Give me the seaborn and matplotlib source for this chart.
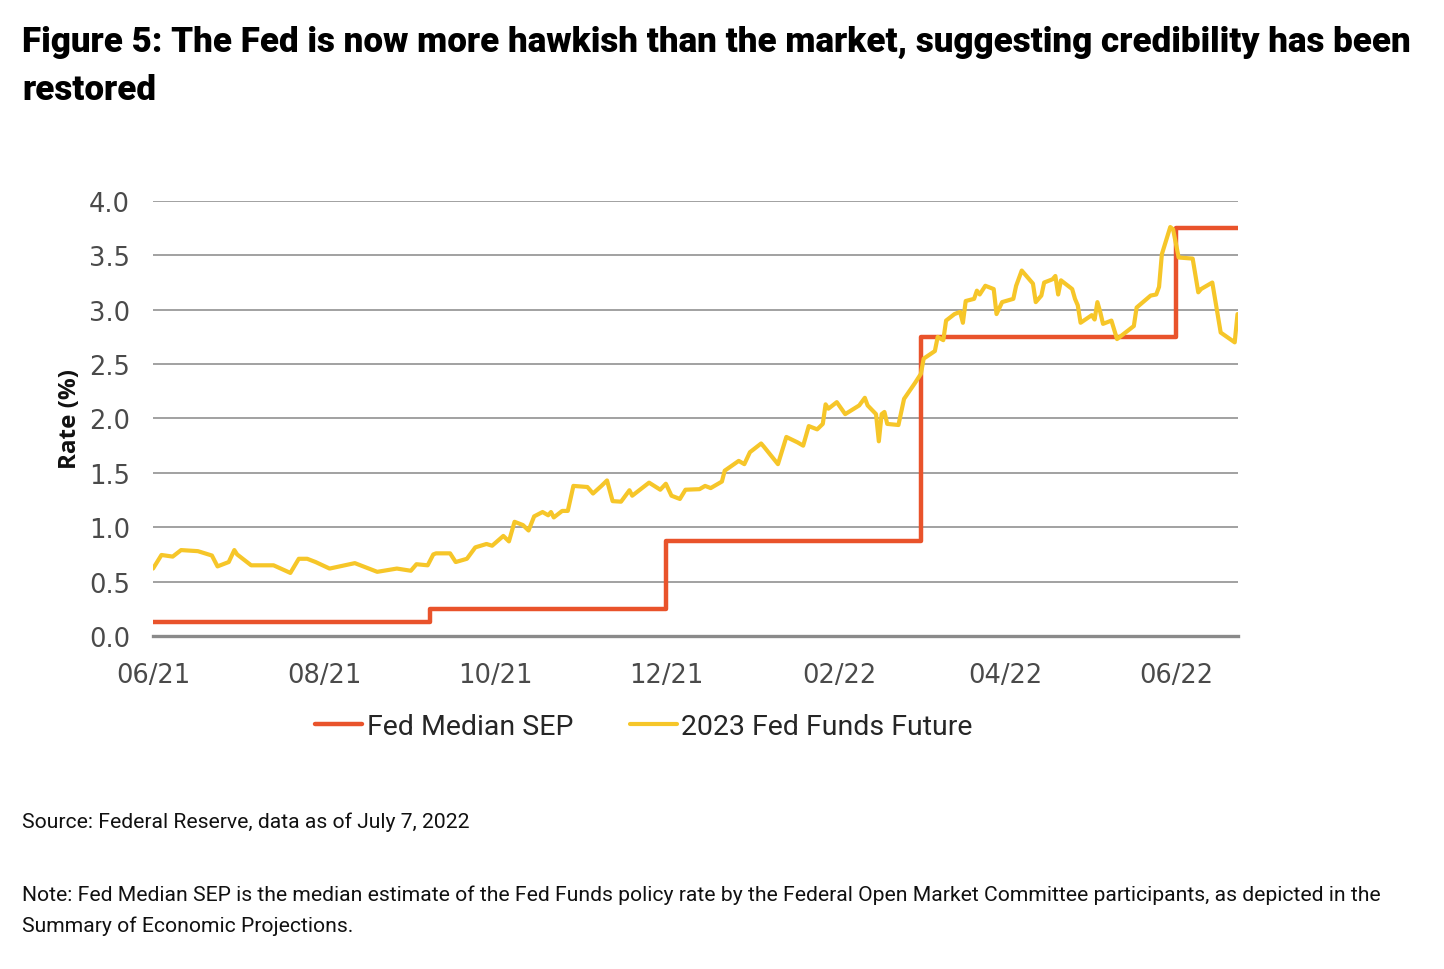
import numpy as np
import pandas as pd
import seaborn as sns
import matplotlib
matplotlib.use("Agg")
from matplotlib import pyplot as plt
import matplotlib.dates as mdates

# Fed median SEP (step changes at FOMC meetings)
sep_dates = ['2021-06-15', '2021-09-22', '2021-12-15', '2022-03-16', '2022-06-15', '2022-07-07']
sep_values = [0.125, 0.25, 0.875, 2.75, 3.75, 3.75]

# 2023 Fed Funds future
fut_dates = ['2021-06-15', '2021-06-18', '2021-06-22', '2021-06-25', '2021-07-01', '2021-07-06',
             '2021-07-08', '2021-07-12', '2021-07-14', '2021-07-15', '2021-07-20', '2021-07-28',
             '2021-08-03', '2021-08-06', '2021-08-09', '2021-08-12', '2021-08-17', '2021-08-26',
             '2021-09-03', '2021-09-10', '2021-09-15', '2021-09-17', '2021-09-21', '2021-09-23',
             '2021-09-24', '2021-09-29', '2021-10-01', '2021-10-05', '2021-10-08', '2021-10-12',
             '2021-10-14', '2021-10-18', '2021-10-20', '2021-10-22', '2021-10-25', '2021-10-27',
             '2021-10-29', '2021-11-01', '2021-11-03', '2021-11-04', '2021-11-05', '2021-11-08',
             '2021-11-10', '2021-11-12', '2021-11-17', '2021-11-19', '2021-11-22', '2021-11-24',
             '2021-11-26', '2021-11-29', '2021-12-02', '2021-12-03', '2021-12-09', '2021-12-13',
             '2021-12-15', '2021-12-17', '2021-12-20', '2021-12-22', '2021-12-27', '2021-12-29',
             '2021-12-31', '2022-01-04', '2022-01-05', '2022-01-10', '2022-01-12', '2022-01-14',
             '2022-01-18', '2022-01-19', '2022-01-24', '2022-01-27', '2022-01-31', '2022-02-02',
             '2022-02-04', '2022-02-07', '2022-02-09', '2022-02-10', '2022-02-11', '2022-02-14',
             '2022-02-17', '2022-02-22', '2022-02-24', '2022-02-25', '2022-02-28', '2022-03-01',
             '2022-03-02', '2022-03-03', '2022-03-04', '2022-03-08', '2022-03-10', '2022-03-14',
             '2022-03-16', '2022-03-17', '2022-03-21', '2022-03-22', '2022-03-24', '2022-03-25',
             '2022-03-28', '2022-03-30', '2022-03-31', '2022-04-01', '2022-04-04', '2022-04-05',
             '2022-04-06', '2022-04-08', '2022-04-11', '2022-04-12', '2022-04-14', '2022-04-18',
             '2022-04-19', '2022-04-21', '2022-04-25', '2022-04-26', '2022-04-28', '2022-04-29',
             '2022-05-02', '2022-05-03', '2022-05-04', '2022-05-05', '2022-05-09', '2022-05-10',
             '2022-05-11', '2022-05-12', '2022-05-16', '2022-05-17', '2022-05-18', '2022-05-19',
             '2022-05-20', '2022-05-23', '2022-05-25', '2022-05-31', '2022-06-01', '2022-06-06',
             '2022-06-08', '2022-06-09', '2022-06-10', '2022-06-13', '2022-06-14', '2022-06-16',
             '2022-06-21', '2022-06-23', '2022-06-24', '2022-06-28', '2022-07-01', '2022-07-06',
             '2022-07-07']
fut_values = [0.62, 0.745, 0.73, 0.79, 0.78, 0.74,
              0.64, 0.68, 0.79, 0.75, 0.65, 0.65,
              0.58, 0.71, 0.71, 0.68, 0.62, 0.67,
              0.59, 0.62, 0.60, 0.66, 0.65, 0.75,
              0.76, 0.76, 0.68, 0.71, 0.815, 0.846,
              0.83, 0.92, 0.87, 1.05, 1.02, 0.97,
              1.10, 1.14, 1.11, 1.14, 1.09, 1.15,
              1.15, 1.38, 1.37, 1.31, 1.38, 1.43,
              1.24, 1.235, 1.34, 1.29, 1.41, 1.345,
              1.40, 1.29, 1.26, 1.345, 1.35, 1.38,
              1.36, 1.42, 1.52, 1.61, 1.58, 1.69,
              1.77, 1.74, 1.58, 1.83, 1.78, 1.75,
              1.93, 1.90, 1.95, 2.13, 2.09, 2.15,
              2.04, 2.12, 2.19, 2.12, 2.04, 1.79,
              2.04, 2.06, 1.95, 1.94, 2.18, 2.33,
              2.41, 2.55, 2.62, 2.75, 2.72, 2.90,
              2.96, 2.98, 2.88, 3.08, 3.10, 3.175,
              3.14, 3.22, 3.19, 2.96, 3.07, 3.10,
              3.22, 3.36, 3.24, 3.07, 3.13, 3.25,
              3.28, 3.31, 3.14, 3.27, 3.19, 3.10,
              3.04, 2.88, 2.95, 2.91, 3.07, 2.98,
              2.87, 2.90, 2.73, 2.85, 3.02, 3.13,
              3.14, 3.21, 3.51, 3.76, 3.74, 3.48,
              3.47, 3.16, 3.19, 3.25, 2.79, 2.70,
              2.96]

tick_dates = ['2021-06-15', '2021-08-15', '2021-10-15', '2021-12-15', '2022-02-15', '2022-04-15', '2022-06-15']
y_ticks = [0.0, 0.5, 1.0, 1.5, 2.0, 2.5, 3.0, 3.5, 4.0]

sep = pd.DataFrame({'date': pd.to_datetime(sep_dates), 'rate': sep_values})
fut = pd.DataFrame({'date': pd.to_datetime(fut_dates), 'rate': fut_values})

sns.set_style("white")
plt.rcParams['font.family'] = ['DejaVu Sans']

fig = plt.figure(figsize=(14.44, 9.70), dpi=100)
ax = fig.add_axes([0.106, 0.3433, 0.751, 0.4485])

red = '#E9532B'
yellow = '#F6C629'

sns.lineplot(data=sep, x='date', y='rate', ax=ax, color=red, linewidth=3.2,
             drawstyle='steps-post', label='Fed Median SEP')
sns.lineplot(data=fut, x='date', y='rate', ax=ax, color=yellow, linewidth=3.0,
             label='2023 Fed Funds Future')

ax.set_ylim(0, 4.0)
ax.set_xlim(pd.Timestamp('2021-06-15'), pd.Timestamp('2022-07-07'))
ax.set_yticks(y_ticks)
ax.set_yticklabels([f'{v:.1f}' for v in y_ticks])
ax.set_xticks(pd.to_datetime(tick_dates))
ax.xaxis.set_major_formatter(mdates.DateFormatter('%m/%y'))

ax.grid(axis='y', color='#9a9a9a', linewidth=1.3)
ax.set_axisbelow(True)
for s in ['top', 'right', 'left']:
    ax.spines[s].set_visible(False)
ax.spines['bottom'].set_color('#8a8a8a')
ax.spines['bottom'].set_linewidth(2.4)
ax.tick_params(axis='both', length=0, labelsize=18.5, colors='#4a4a4a')
ax.tick_params(axis='y', pad=16.5)
ax.tick_params(axis='x', pad=19)
ax.set_xlabel('')
ax.set_ylabel('Rate (%)', fontsize=17.5, fontweight='bold', family='Open Sans',
              color='#111111', labelpad=5)

ax.get_legend().remove()
handles, labels = ax.get_legend_handles_labels()
fig.legend(handles, labels, loc='center', bbox_to_anchor=(0.446, 0.2505), ncol=2,
           frameon=False, prop={'family': 'Roboto', 'size': 20.5}, handlelength=1.65,
           handletextpad=0.15, columnspacing=2.0)

fig.text(0.0152, 0.9464, 'Figure 5: The Fed is now more hawkish than the market, suggesting credibility has been',
         fontsize=25.2, fontweight='black', family='Roboto', va='baseline', ha='left', color='black')
fig.text(0.0152, 0.897, 'restored',
         fontsize=25.2, fontweight='black', family='Roboto', va='baseline', ha='left', color='black')
fig.text(0.0152, 0.1526, 'Source: Federal Reserve, data as of July 7, 2022',
         fontsize=15.2, family='Roboto', va='center', ha='left', color='#111111')
fig.text(0.0152, 0.0615, 'Note: Fed Median SEP is the median estimate of the Fed Funds policy rate by the Federal Open Market Committee participants, as depicted in the\nSummary of Economic Projections.',
         fontsize=15.2, family='Roboto', va='center', ha='left', color='#111111', linespacing=1.75)

fig.savefig('out.png', dpi=100)
